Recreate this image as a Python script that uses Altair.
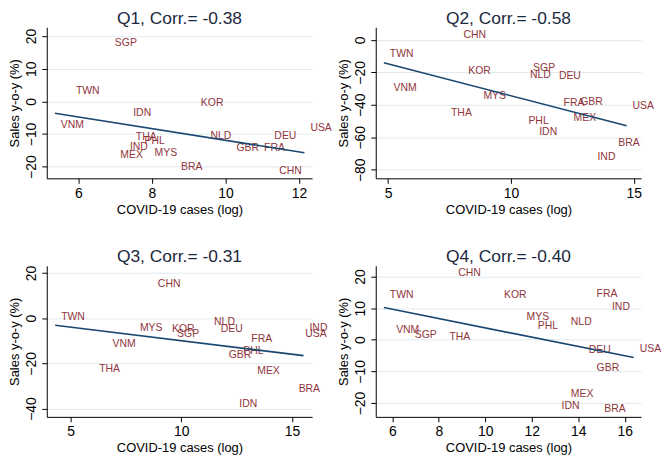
import altair as alt
import pandas as pd

countries = ["BRA", "CHN", "DEU", "FRA", "GBR", "IDN", "IND", "KOR", "MEX",
             "MYS", "NLD", "PHL", "SGP", "THA", "TWN", "USA", "VNM"]

q1_cases = [8.63, 11.30, 11.17, 10.89, 10.14, 7.33, 7.24, 9.17, 6.98,
            7.91, 9.43, 7.64, 6.83, 7.40, 5.77, 12.15, 5.36]
q1_sales = [-20.1, -21.4, -10.7, -14.2, -14.2, -3.6, -14.0, -0.6, -16.4,
            -15.9, -10.5, -12.2, 18.0, -10.9, 3.2, -8.1, -7.4]

q2_cases = [14.13, 7.83, 11.71, 11.90, 12.58, 10.91, 13.28, 8.02, 12.31,
            8.64, 10.53, 10.47, 10.66, 7.32, 4.83, 14.71, 4.98]
q2_sales = [-63.3, 2.9, -22.4, -38.8, -38.0, -56.7, -72.4, -19.0, -48.2,
            -34.3, -21.6, -49.8, -17.6, -45.1, -8.8, -40.8, -29.8]

q3_cases = [15.03, 8.67, 11.51, 12.89, 11.87, 12.35, 15.52, 9.31, 13.16,
            7.86, 11.21, 12.53, 9.54, 6.02, 4.30, 15.33, 6.62]
q3_sales = [-31.3, 15.0, -5.0, -9.4, -16.1, -37.8, -4.4, -4.7, -23.6,
            -4.4, -1.8, -14.6, -7.1, -22.6, 0.3, -6.9, -11.5]

q4_cases = [14.86, 8.58, 14.19, 14.53, 14.53, 13.02, 15.19, 10.55, 13.42,
            11.52, 13.42, 12.00, 6.71, 8.20, 5.64, 16.38, 5.91]
q4_sales = [-22.0, 21.0, -3.3, 14.5, -8.9, -21.0, 10.3, 14.3, -17.1,
            7.3, 5.5, 4.4, 1.5, 1.0, 14.0, -3.0, 3.2]

titles = ["Q1, Corr.= -0.38", "Q2, Corr.= -0.58", "Q3, Corr.= -0.31", "Q4, Corr.= -0.40"]
x_ticks = [[6, 8, 10, 12], [5, 10, 15], [5, 10, 15], [6, 8, 10, 12, 14, 16]]
y_ticks = [[-20, -10, 0, 10, 20], [-80, -60, -40, -20, 0], [-40, -20, 0, 20],
           [-20, -10, 0, 10, 20]]
x_domains = [[5.14, 12.36], [4.50, 15.30], [3.92, 15.91], [5.29, 16.70]]
y_domains = [[-23.6, 22.7], [-85.3, 7.8], [-43.7, 23.2], [-24.4, 23.4]]

series = [(q1_cases, q1_sales), (q2_cases, q2_sales),
          (q3_cases, q3_sales), (q4_cases, q4_sales)]

FONT = "Liberation Sans"
LABEL_COLOR = "#90353b"
LINE_COLOR = "#1a476f"


def panel(i):
    cases, sales = series[i]
    df = pd.DataFrame({"country": countries, "cases": cases, "sales": sales})
    x = alt.X("cases:Q",
              scale=alt.Scale(domain=x_domains[i], nice=False, zero=False),
              axis=alt.Axis(values=x_ticks[i], title="COVID-19 cases (log)",
                            grid=False, format="d"))
    y = alt.Y("sales:Q",
              scale=alt.Scale(domain=y_domains[i], nice=False, zero=False),
              axis=alt.Axis(values=y_ticks[i], title="Sales y-o-y (%)",
                            grid=True, labelAngle=270, labelAlign="center",
                            labelBaseline="bottom", format="d"))
    base = alt.Chart(df)
    labels = base.mark_text(align="left", baseline="middle", dx=6,
                            fontSize=10.5, font=FONT, color=LABEL_COLOR).encode(
        x=x, y=y, text="country:N")
    fit = base.transform_regression("cases", "sales").mark_line(
        color=LINE_COLOR, strokeWidth=1.6, clip=True).encode(x=x, y=y)
    return alt.layer(labels, fit).properties(
        width=267, height=152,
        title=alt.TitleParams(titles[i], fontSize=17.5, font=FONT,
                              fontWeight="normal", color="#1b2940", offset=0))


chart = alt.concat(*[panel(i) for i in range(4)], columns=2,
                   spacing={"row": 88, "column": 64}, bounds="flush").properties(
    padding={"left": 1, "top": 0, "right": 0, "bottom": 0}
).configure_view(stroke=None).configure_axis(
    domainColor="black", tickColor="black", labelColor="black",
    titleColor="black", labelFont=FONT, titleFont=FONT, labelFontSize=14,
    titleFontSize=13, titleFontWeight="normal", tickSize=5, labelPadding=3,
    titlePadding=3, gridColor="#e1eaee", gridWidth=1, domainWidth=1,
    labelFlush=False
)

chart.save("out.html", embed_options={"renderer": "svg", "actions": False})
